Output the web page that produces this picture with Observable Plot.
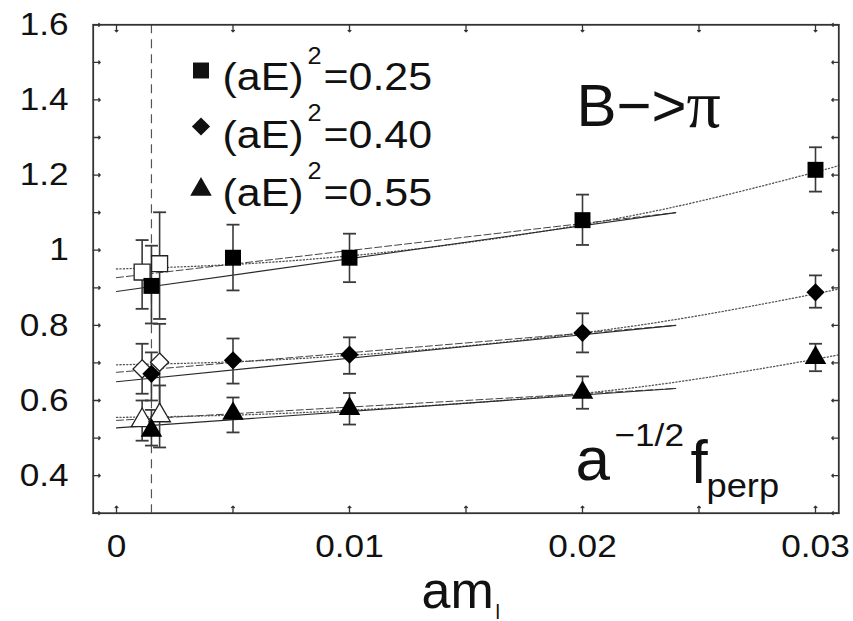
<!DOCTYPE html>
<html>
<head>
<meta charset="utf-8">
<script src="https://cdn.jsdelivr.net/npm/d3@7"></script>
<script src="https://cdn.jsdelivr.net/npm/@observablehq/plot@0.6"></script>
<style>
  html, body { margin: 0; padding: 0; background: #fff; }
  #chart svg { display: block; }
</style>
</head>
<body>
<div id="chart"></div>
<script>
// ---------- data ----------
const amL = [0.0015, 0.005, 0.01, 0.02, 0.03];

const sqY  = [0.905, 0.980, 0.980, 1.080, 1.214];
const sqLo = [0.805, 0.893, 0.915, 1.014, 1.156];
const sqHi = [1.012, 1.068, 1.044, 1.148, 1.274];

const diY  = [0.671, 0.707, 0.722, 0.780, 0.888];
const diLo = [0.600, 0.645, 0.671, 0.728, 0.847];
const diHi = [0.728, 0.765, 0.768, 0.832, 0.933];

const trY  = [0.520, 0.565, 0.578, 0.621, 0.714];
const trLo = [0.480, 0.515, 0.536, 0.578, 0.678];
const trHi = [0.575, 0.608, 0.620, 0.664, 0.751];

// open symbols (extrapolated values near the physical point)
const openX    = [0.0011, 0.00185];
const openSqY  = [0.942, 0.964];
const openSqLo = [0.844, 0.817];
const openSqHi = [1.027, 1.101];
const openDiY  = [0.684, 0.702];
const openDiLo = [0.618, 0.565];
const openDiHi = [0.751, 0.804];
const openTrY  = [0.547, 0.560];
const openTrLo = [0.493, 0.475];
const openTrHi = [0.600, 0.640];

// fit curves
const fitX      = [0, 0.024];
const solidSq   = [0.890, 1.100];
const solidDi   = [0.650, 0.800];
const solidTr   = [0.527, 0.632];
const dashedSq  = [0.927, 1.100];
const dashedDi  = [0.675, 0.800];
const dashedTr  = [0.547, 0.632];

const dotX      = [0, 0.005, 0.01, 0.015, 0.02, 0.025, 0.03, 0.031];
const dottedSq  = [0.950, 0.962, 0.985, 1.020, 1.068, 1.130, 1.208, 1.226];
const dottedDi  = [0.695, 0.703, 0.720, 0.745, 0.780, 0.826, 0.884, 0.897];
const dottedTr  = [0.555, 0.561, 0.574, 0.593, 0.619, 0.658, 0.710, 0.722];

const physX = [0.0015];

const legendLabels = ["0.25", "0.40", "0.55"];
const xTicks  = [0, 0.005, 0.01, 0.015, 0.02, 0.025, 0.03];
const xLabels = [0, 0.01, 0.02, 0.03];
const yTicks  = [0.3, 0.4, 0.5, 0.6, 0.7, 0.8, 0.9, 1.0, 1.1, 1.2, 1.3, 1.4, 1.5, 1.6];
const yLabels = [0.4, 0.6, 0.8, 1, 1.2, 1.4, 1.6];

// ---------- tables ----------
const mk = (xs, ys, lo, hi) => xs.map((x, i) => ({x, y: ys[i], lo: lo[i], hi: hi[i]}));
const filledSq = mk(amL, sqY, sqLo, sqHi);
const filledDi = mk(amL, diY, diLo, diHi);
const filledTr = mk(amL, trY, trLo, trHi);
const openSq = mk(openX, openSqY, openSqLo, openSqHi);
const openDi = mk(openX, openDiY, openDiLo, openDiHi);
const openTr = mk(openX, openTrY, openTrLo, openTrHi);
const allPts = [...openSq, ...openDi, ...openTr, ...filledSq, ...filledDi, ...filledTr];

const line = (xs, ys) => xs.map((x, i) => ({x, y: ys[i]}));

const capSymbol = {
  draw(context, size) {
    const w = Math.sqrt(size / Math.PI);
    context.moveTo(-w, 0);
    context.lineTo(w, 0);
  }
};

const INK = "#111";
const FONT = "'Liberation Sans', Arial, Helvetica, sans-serif";
const SERIF = "'Liberation Serif', 'DejaVu Serif', serif";

const symbols = ["square", "diamond2", "triangle"];
const symR = [9, 8.2, 8];

// legend marks (rows)
const legBase = [89.5, 147, 205];   // text baselines (px from top of svg)
const legSym  = [70, 126, 189];     // symbol centres
const top0 = 24.3, left0 = 92.7, bottom0 = 512.7;
const legendMarks = legendLabels.flatMap((lab, i) => [
  Plot.dot([0], {frameAnchor: "top-left", dx: 200.5 - left0, dy: legSym[i] - top0,
    symbol: symbols[i], r: symR[i], fill: INK, stroke: "none"}),
  Plot.text(["(aE)"], {text: d => d, frameAnchor: "top-left", dx: 222 - left0, dy: legBase[i] - top0,
    textAnchor: "start", lineAnchor: "bottom", fontSize: 39, fill: INK, ariaDescription: "stretch"}),
  Plot.text(["2"], {text: d => d, frameAnchor: "top-left", dx: 307 - left0, dy: legBase[i] - 26.5 - top0,
    textAnchor: "start", lineAnchor: "bottom", fontSize: 23, fill: INK, ariaDescription: "stretch"}),
  Plot.text(["=" + lab], {text: d => d, frameAnchor: "top-left", dx: 323 - left0, dy: legBase[i] - top0,
    textAnchor: "start", lineAnchor: "bottom", fontSize: 39, fill: INK, ariaDescription: "stretch"})
]);

const annot = (s, x, y, size, extra = {}) =>
  Plot.text([s], {text: d => d, frameAnchor: "top-left", dx: x - left0, dy: y - top0,
    textAnchor: "start", lineAnchor: "bottom", fontSize: size, fill: INK, ...extra});

const lineStyle = {
  solid:  {stroke: "#2a2a2a", strokeWidth: 1.1},
  dashed: {stroke: "#444", strokeWidth: 1.0, strokeDasharray: "7,3"},
  dotted: {stroke: "#555", strokeWidth: 1.3, strokeDasharray: "1.2,2.2"}
};

const plot = Plot.plot({
  width: 853,
  height: 621,
  marginTop: top0,
  marginLeft: left0,
  marginRight: 853 - 838.3,
  marginBottom: 621 - bottom0,
  style: {fontFamily: FONT, background: "white", overflow: "visible", color: INK},
  x: {domain: [-0.001, 0.031]},
  y: {domain: [0.3, 1.6]},
  marks: [
    // physical point dashed vertical line
    Plot.ruleX(physX, {stroke: "#555", strokeWidth: 1.2, strokeDasharray: "9,6"}),
    // fits
    Plot.line(line(dotX, dottedSq), {x: "x", y: "y", curve: "natural", ...lineStyle.dotted}),
    Plot.line(line(dotX, dottedDi), {x: "x", y: "y", curve: "natural", ...lineStyle.dotted}),
    Plot.line(line(dotX, dottedTr), {x: "x", y: "y", curve: "natural", ...lineStyle.dotted}),
    Plot.line(line(fitX, dashedSq), {x: "x", y: "y", ...lineStyle.dashed}),
    Plot.line(line(fitX, dashedDi), {x: "x", y: "y", ...lineStyle.dashed}),
    Plot.line(line(fitX, dashedTr), {x: "x", y: "y", ...lineStyle.dashed}),
    Plot.line(line(fitX, solidSq), {x: "x", y: "y", ...lineStyle.solid}),
    Plot.line(line(fitX, solidDi), {x: "x", y: "y", ...lineStyle.solid}),
    Plot.line(line(fitX, solidTr), {x: "x", y: "y", ...lineStyle.solid}),
    // error bars
    Plot.ruleX(allPts, {x: "x", y1: "lo", y2: "hi", stroke: "#3a3a3a", strokeWidth: 1.6}),
    Plot.dot(allPts, {x: "x", y: "lo", symbol: capSymbol, r: 6.5, fill: "none", stroke: "#3a3a3a", strokeWidth: 1.8}),
    Plot.dot(allPts, {x: "x", y: "hi", symbol: capSymbol, r: 6.5, fill: "none", stroke: "#3a3a3a", strokeWidth: 1.8}),
    // open symbols
    Plot.dot(openSq, {x: "x", y: "y", symbol: "square", r: symR[0], fill: "white", stroke: "#222", strokeWidth: 1.3}),
    Plot.dot(openDi, {x: "x", y: "y", symbol: "diamond2", r: symR[1], fill: "white", stroke: "#222", strokeWidth: 1.3}),
    Plot.dot(openTr, {x: "x", y: "y", symbol: "triangle", r: symR[2], fill: "white", stroke: "#222", strokeWidth: 1.3}),
    // filled symbols
    Plot.dot(filledSq, {x: "x", y: "y", symbol: "square", r: symR[0], fill: "#000", stroke: "none"}),
    Plot.dot(filledDi, {x: "x", y: "y", symbol: "diamond2", r: symR[1], fill: "#000", stroke: "none"}),
    Plot.dot(filledTr, {x: "x", y: "y", symbol: "triangle", r: symR[2], fill: "#000", stroke: "none"}),
    // inward ticks on all four sides
    Plot.vector(yTicks, {y: d => d, frameAnchor: "left", rotate: 90, length: 7, anchor: "start", stroke: "#333", strokeWidth: 1.3}),
    Plot.vector(yTicks, {y: d => d, frameAnchor: "right", rotate: -90, length: 7, anchor: "start", stroke: "#333", strokeWidth: 1.3}),
    Plot.vector(xTicks, {x: d => d, frameAnchor: "bottom", rotate: 0, length: 7, anchor: "start", stroke: "#333", strokeWidth: 1.3}),
    Plot.vector(xTicks, {x: d => d, frameAnchor: "top", rotate: 180, length: 7, anchor: "start", stroke: "#333", strokeWidth: 1.3}),
    Plot.frame({stroke: "#333", strokeWidth: 1.8}),
    // axis labels
    Plot.axisY(yLabels, {tickSize: 0, tickPadding: 24.5, fontSize: 32, tickFormat: d => String(d), label: null, fill: INK}),
    Plot.axisX(xLabels, {tickSize: 0, tickPadding: 21, fontSize: 32, tickFormat: d => String(d), label: null, fill: INK}),
    // x-axis title am_l
    annot("am", 421, 607, 52),
    annot("l", 495, 618, 20),
    // annotations
    annot("B\u2212>", 576, 125, 60),
    annot("\u03c0", 686, 126, 68, {fontFamily: SERIF}),
    annot("a", 575, 479, 62),
    annot("\u22121/2", 614, 445, 32, {ariaDescription: "stretch"}),
    annot("f", 690, 482, 62),
    annot("perp", 706, 496, 33, {ariaDescription: "stretch"}),
    ...legendMarks
  ]
});

// slight horizontal widening of some texts to match the original typeface width
plot.querySelectorAll('g[aria-label="x-axis tick label"] text, g[aria-label="y-axis tick label"] text, g[aria-description="stretch"] text')
  .forEach(t => {
    const tr = t.getAttribute("transform") || "";
    t.setAttribute("transform", tr + " scale(1.1,1)");
  });

document.getElementById("chart").appendChild(plot);
</script>
</body>
</html>
